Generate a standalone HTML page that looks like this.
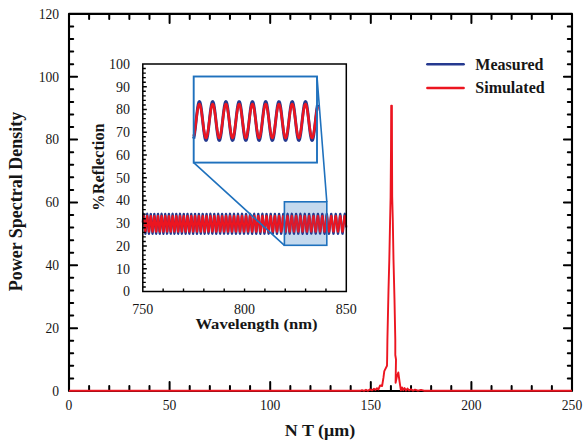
<!DOCTYPE html>
<html><head><meta charset="utf-8"><style>
html,body{margin:0;padding:0;background:#fff;width:585px;height:446px;overflow:hidden}
svg{display:block}
text{font-family:"Liberation Serif",serif;fill:#161616}
.n{font-size:13.6px}
.m{font-size:14px}
.t{font-size:18px;font-weight:bold}
.l{font-size:16px;font-weight:bold}
.s{font-size:16.6px;font-weight:bold}
</style></head><body>
<svg width="585" height="446" viewBox="0 0 585 446">
<rect width="585" height="446" fill="#fff"/>
<path d="M89.12 391.00V386.00M89.12 13.90V18.90M109.24 391.00V386.00M109.24 13.90V18.90M129.36 391.00V386.00M129.36 13.90V18.90M149.48 391.00V386.00M149.48 13.90V18.90M169.60 391.00V381.90M169.60 13.90V23.00M189.72 391.00V386.00M189.72 13.90V18.90M209.84 391.00V386.00M209.84 13.90V18.90M229.96 391.00V386.00M229.96 13.90V18.90M250.08 391.00V386.00M250.08 13.90V18.90M270.20 391.00V381.90M270.20 13.90V23.00M290.32 391.00V386.00M290.32 13.90V18.90M310.44 391.00V386.00M310.44 13.90V18.90M330.56 391.00V386.00M330.56 13.90V18.90M350.68 391.00V386.00M350.68 13.90V18.90M370.80 391.00V381.90M370.80 13.90V23.00M390.92 391.00V386.00M390.92 13.90V18.90M411.04 391.00V386.00M411.04 13.90V18.90M431.16 391.00V386.00M431.16 13.90V18.90M451.28 391.00V386.00M451.28 13.90V18.90M471.40 391.00V381.90M471.40 13.90V23.00M491.52 391.00V386.00M491.52 13.90V18.90M511.64 391.00V386.00M511.64 13.90V18.90M531.76 391.00V386.00M531.76 13.90V18.90M551.88 391.00V386.00M551.88 13.90V18.90M69.00 378.43H73.20M572.00 378.43H567.80M69.00 365.86H73.20M572.00 365.86H567.80M69.00 353.29H73.20M572.00 353.29H567.80M69.00 340.72H73.20M572.00 340.72H567.80M69.00 328.15H77.10M572.00 328.15H563.90M69.00 315.58H73.20M572.00 315.58H567.80M69.00 303.01H73.20M572.00 303.01H567.80M69.00 290.44H73.20M572.00 290.44H567.80M69.00 277.87H73.20M572.00 277.87H567.80M69.00 265.30H77.10M572.00 265.30H563.90M69.00 252.73H73.20M572.00 252.73H567.80M69.00 240.16H73.20M572.00 240.16H567.80M69.00 227.59H73.20M572.00 227.59H567.80M69.00 215.02H73.20M572.00 215.02H567.80M69.00 202.45H77.10M572.00 202.45H563.90M69.00 189.88H73.20M572.00 189.88H567.80M69.00 177.31H73.20M572.00 177.31H567.80M69.00 164.74H73.20M572.00 164.74H567.80M69.00 152.17H73.20M572.00 152.17H567.80M69.00 139.60H77.10M572.00 139.60H563.90M69.00 127.03H73.20M572.00 127.03H567.80M69.00 114.46H73.20M572.00 114.46H567.80M69.00 101.89H73.20M572.00 101.89H567.80M69.00 89.32H73.20M572.00 89.32H567.80M69.00 76.75H77.10M572.00 76.75H563.90M69.00 64.18H73.20M572.00 64.18H567.80M69.00 51.61H73.20M572.00 51.61H567.80M69.00 39.04H73.20M572.00 39.04H567.80M69.00 26.47H73.20M572.00 26.47H567.80" stroke="#000" stroke-width="2.0" stroke-linecap="round" fill="none"/>
<rect x="69.0" y="13.9" width="503.00" height="377.10" stroke="#000" stroke-width="2.1" stroke-linejoin="round" fill="none"/>
<text transform="translate(59.1 395.80) scale(1 1.12)" text-anchor="end" class="n">0</text>
<text transform="translate(59.1 332.95) scale(1 1.12)" text-anchor="end" class="n">20</text>
<text transform="translate(59.1 270.10) scale(1 1.12)" text-anchor="end" class="n">40</text>
<text transform="translate(59.1 207.25) scale(1 1.12)" text-anchor="end" class="n">60</text>
<text transform="translate(59.1 144.40) scale(1 1.12)" text-anchor="end" class="n">80</text>
<text transform="translate(59.1 81.55) scale(1 1.12)" text-anchor="end" class="n">100</text>
<text transform="translate(59.1 18.70) scale(1 1.12)" text-anchor="end" class="n">120</text>
<text transform="translate(69.00 409.7) scale(1 1.12)" text-anchor="middle" class="n">0</text>
<text transform="translate(169.60 409.7) scale(1 1.12)" text-anchor="middle" class="n">50</text>
<text transform="translate(270.20 409.7) scale(1 1.12)" text-anchor="middle" class="n">100</text>
<text transform="translate(370.80 409.7) scale(1 1.12)" text-anchor="middle" class="n">150</text>
<text transform="translate(471.40 409.7) scale(1 1.12)" text-anchor="middle" class="n">200</text>
<text transform="translate(572.00 409.7) scale(1 1.12)" text-anchor="middle" class="n">250</text>
<text transform="translate(320 435.6) scale(1 0.95)" text-anchor="middle" class="t">N T (μm)</text>
<text transform="translate(21.5 201.5) rotate(-90)" text-anchor="middle" class="t">Power Spectral Density</text>
<polyline points="69.0,390.8 360.0,390.8 362.0,390.1 364.0,390.9 366.0,389.8 368.0,390.8 370.0,389.4 372.0,390.4 374.0,388.8 375.5,389.9 377.0,388.2 378.5,389.4 380.0,385.5 382.1,386.0 383.5,377.4 384.3,371.1 387.0,365.8 387.2,355.0 387.4,340.0 388.5,290.0 389.3,260.0 390.1,220.0 390.6,197.0 391.0,150.0 391.2,105.6 391.9,105.6 392.0,150.0 392.2,197.0 392.8,220.0 393.5,260.0 394.5,300.0 395.3,340.0 395.3,355.0 396.0,359.5 395.6,382.8 396.9,376.5 398.3,372.5 399.6,381.9 400.9,390.4 402.0,387.5 403.2,390.2 404.5,388.0 406.0,390.5 407.5,388.6 409.0,390.4 411.0,389.2 413.0,390.6 415.0,389.6 418.0,390.7 421.0,389.9 424.0,390.7 426.0,390.8 572.0,390.8" stroke="#ec1520" stroke-width="1.9" fill="none" stroke-linejoin="round"/>
<path d="M427.4 64.3H463.6" stroke="#25398f" stroke-width="2.6" stroke-linecap="round"/>
<path d="M427.4 88.0H463.6" stroke="#ec1520" stroke-width="2.6" stroke-linecap="round"/>
<text x="475.3" y="69.6" class="l">Measured</text>
<text x="475.3" y="93.4" class="l">Simulated</text>
<rect x="142.8" y="64.0" width="203.50" height="227.50" fill="#fff" stroke="none"/>
<rect x="284.4" y="201.8" width="42.4" height="43.5" fill="#d0e4f4"/>
<polyline points="142.80,222.23 143.00,218.87 143.20,216.12 143.40,214.32 143.60,213.70 143.80,214.32 144.00,216.12 144.20,218.86 144.40,222.21 144.60,225.76 144.80,229.06 145.00,231.72 145.20,233.40 145.40,233.89 145.60,233.15 145.80,231.25 146.00,228.44 146.20,225.06 146.40,221.53 146.60,218.27 146.80,215.70 147.00,214.12 147.20,213.72 147.40,214.56 147.60,216.53 147.80,219.39 148.00,222.79 148.20,226.31 148.40,229.52 148.60,232.04 148.80,233.54 149.00,233.86 149.20,232.96 149.40,230.93 149.60,228.04 149.80,224.64 150.00,221.13 150.20,217.95 150.40,215.48 150.60,214.02 150.80,213.75 151.00,214.70 151.20,216.75 151.40,219.66 151.60,223.06 151.80,226.56 152.00,229.72 152.20,232.17 152.40,233.60 152.60,233.85 152.80,232.88 153.00,230.82 153.20,227.91 153.40,224.51 153.60,221.02 153.80,217.87 154.00,215.43 154.20,214.00 154.40,213.75 154.60,214.71 154.80,216.76 155.00,219.65 155.20,223.05 155.40,226.53 155.60,229.68 155.80,232.13 156.00,233.58 156.20,233.86 156.40,232.93 156.60,230.91 156.80,228.05 157.00,224.68 157.20,221.20 157.40,218.03 157.60,215.56 157.80,214.06 158.00,213.73 158.20,214.60 158.40,216.56 158.60,219.38 158.80,222.73 159.00,226.20 159.20,229.39 159.40,231.91 159.60,233.47 159.80,233.88 160.00,233.10 160.20,231.21 160.40,228.45 160.60,225.14 160.80,221.66 161.00,218.45 161.20,215.86 161.40,214.22 161.60,213.70 161.80,214.38 162.00,216.17 162.20,218.86 162.40,222.13 162.60,225.59 162.80,228.85 163.00,231.51 163.20,233.26 163.40,233.90 163.60,233.35 163.80,231.69 164.00,229.09 164.20,225.88 164.40,222.43 164.60,219.13 164.80,216.39 165.00,214.51 165.20,213.72 165.40,214.11 165.60,215.63 165.80,218.10 166.00,221.24 166.20,224.68 166.40,228.02 166.60,230.86 166.80,232.88 167.00,233.84 167.20,233.63 167.40,232.28 167.60,229.94 167.80,226.89 168.00,223.48 168.20,220.11 168.40,217.17 168.60,215.00 168.80,213.85 169.00,213.85 169.20,215.00 169.40,217.17 169.60,220.11 169.80,223.48 170.00,226.88 170.20,229.92 170.40,232.26 170.60,233.62 170.80,233.85 171.00,232.92 171.20,230.94 171.40,228.13 171.60,224.84 171.80,221.42 172.00,218.27 172.20,215.77 172.40,214.18 172.60,213.70 172.80,214.38 173.00,216.14 173.20,218.78 173.40,221.99 173.60,225.41 173.80,228.64 174.00,231.32 174.20,233.14 174.40,233.89 174.60,233.49 174.80,231.98 175.00,229.54 175.20,226.44 175.40,223.05 175.60,219.74 175.80,216.90 176.00,214.84 176.20,213.80 176.40,213.90 176.60,215.12 176.80,217.33 177.00,220.27 177.20,223.62 177.40,226.98 177.60,229.98 177.80,232.28 178.00,233.62 178.20,233.85 178.40,232.94 178.60,231.00 178.80,228.24 179.00,224.99 179.20,221.60 179.40,218.46 179.60,215.92 179.80,214.27 180.00,213.70 180.20,214.26 180.40,215.90 180.60,218.42 180.80,221.55 181.00,224.93 181.20,228.19 181.40,230.94 181.60,232.90 181.80,233.84 182.00,233.65 182.20,232.35 182.40,230.10 182.60,227.15 182.80,223.82 183.00,220.49 183.20,217.53 183.40,215.27 183.60,213.96 183.80,213.76 184.00,214.67 184.20,216.60 184.40,219.33 184.60,222.56 184.80,225.93 185.00,229.05 185.20,231.60 185.40,233.27 185.60,233.90 185.80,233.40 186.00,231.84 186.20,229.38 186.40,226.31 186.60,222.96 186.80,219.71 187.00,216.90 187.20,214.86 187.40,213.81 187.60,213.87 187.80,215.02 188.00,217.14 188.20,219.99 188.40,223.27 188.60,226.60 188.80,229.62 189.00,232.00 189.20,233.48 189.40,233.89 189.60,233.19 189.80,231.46 190.00,228.89 190.20,225.76 190.40,222.42 190.60,219.23 190.80,216.54 191.00,214.64 191.20,213.75 191.40,213.96 191.60,215.25 191.80,217.47 192.00,220.38 192.20,223.67 192.40,226.97 192.60,229.92 192.80,232.20 193.00,233.57 193.20,233.87 193.40,233.08 193.60,231.27 193.80,228.65 194.00,225.51 194.20,222.18 194.40,219.03 194.60,216.39 194.80,214.56 195.00,213.74 195.20,214.00 195.40,215.33 195.60,217.57 195.80,220.49 196.00,223.76 196.20,227.04 196.40,229.97 196.60,232.23 196.80,233.58 197.00,233.87 197.20,233.08 197.40,231.28 197.60,228.69 197.80,225.56 198.00,222.25 198.20,219.10 198.40,216.46 198.60,214.61 198.80,213.75 199.00,213.97 199.20,215.24 199.40,217.43 199.60,220.30 199.80,223.55 200.00,226.82 200.20,229.77 200.40,232.08 200.60,233.50 200.80,233.89 201.00,233.19 201.20,231.50 201.40,228.98 201.60,225.91 201.80,222.61 202.00,219.45 202.20,216.74 202.40,214.79 202.60,213.80 202.80,213.87 203.00,215.00 203.20,217.06 203.40,219.84 203.60,223.04 203.80,226.32 204.00,229.32 204.20,231.75 204.40,233.33 204.60,233.90 204.80,233.40 205.00,231.89 205.20,229.52 205.40,226.55 205.60,223.28 205.80,220.08 206.00,217.26 206.20,215.14 206.40,213.93 206.60,213.76 206.80,214.65 207.00,216.50 207.20,219.12 207.40,222.23 207.60,225.50 207.80,228.60 208.00,231.19 208.20,233.00 208.40,233.85 208.60,233.64 208.80,232.41 209.00,230.27 209.20,227.45 209.40,224.26 209.60,221.01 209.80,218.06 210.00,215.71 210.20,214.20 210.40,213.70 210.60,214.25 210.80,215.80 211.00,218.18 211.20,221.14 211.40,224.38 211.60,227.56 211.80,230.35 212.00,232.46 212.20,233.66 212.40,233.84 212.60,232.98 212.80,231.17 213.00,228.59 213.20,225.52 213.40,222.27 213.60,219.18 213.80,216.56 214.00,214.70 214.20,213.78 214.40,213.89 214.60,215.03 214.80,217.08 215.00,219.81 215.20,222.96 215.40,226.19 215.60,229.18 215.80,231.61 216.00,233.24 216.20,233.89 216.40,233.51 216.60,232.13 216.80,229.89 217.00,227.03 217.20,223.84 217.40,220.65 217.60,217.78 217.80,215.52 218.00,214.12 218.20,213.71 218.40,214.33 218.60,215.92 218.80,218.31 219.00,221.27 219.20,224.48 219.40,227.62 219.60,230.37 219.80,232.46 220.00,233.66 220.20,233.85 220.40,233.02 220.60,231.25 220.80,228.73 221.00,225.70 221.20,222.48 221.40,219.40 221.60,216.76 221.80,214.84 222.00,213.83 222.20,213.83 222.40,214.84 222.60,216.75 222.80,219.38 223.00,222.46 223.20,225.67 223.40,228.69 223.60,231.21 223.80,232.99 224.00,233.84 224.20,233.68 224.40,232.52 224.60,230.48 224.80,227.77 225.00,224.66 225.20,221.46 225.40,218.51 225.60,216.08 225.80,214.43 226.00,213.72 226.20,214.02 226.40,215.31 226.60,217.44 226.80,220.22 227.00,223.35 227.20,226.52 227.40,229.42 227.60,231.76 227.80,233.30 228.00,233.90 228.20,233.48 228.40,232.10 228.60,229.89 228.80,227.07 229.00,223.93 229.20,220.77 229.40,217.92 229.60,215.66 229.80,214.20 230.00,213.70 230.20,214.20 230.40,215.66 230.60,217.93 230.80,220.77 231.00,223.92 231.20,227.05 231.40,229.87 231.60,232.07 231.80,233.46 232.00,233.90 232.20,233.33 232.40,231.82 232.60,229.52 232.80,226.66 233.00,223.51 233.20,220.39 233.40,217.61 233.60,215.44 233.80,214.10 234.00,213.71 234.20,214.31 234.40,215.85 234.60,218.16 234.80,221.04 235.00,224.18 235.20,227.28 235.40,230.04 235.60,232.19 235.80,233.52 236.00,233.89 236.20,233.28 236.40,231.73 236.60,229.41 236.80,226.55 237.00,223.41 237.20,220.31 237.40,217.56 237.60,215.41 237.80,214.09 238.00,213.71 238.20,214.31 238.40,215.84 238.60,218.14 238.80,221.00 239.00,224.12 239.20,227.21 239.40,229.98 239.60,232.14 239.80,233.49 240.00,233.90 240.20,233.33 240.40,231.83 240.60,229.56 240.80,226.74 241.00,223.62 241.20,220.53 241.40,217.75 241.60,215.56 241.80,214.16 242.00,213.70 242.20,214.21 242.40,215.65 242.60,217.87 242.80,220.66 243.00,223.75 243.20,226.85 243.40,229.65 243.60,231.89 243.80,233.36 244.00,233.90 244.20,233.47 244.40,232.11 244.60,229.96 244.80,227.22 245.00,224.15 245.20,221.04 245.40,218.21 245.60,215.90 245.80,214.36 246.00,213.71 246.20,214.04 246.40,215.29 246.60,217.36 246.80,220.04 247.00,223.08 247.20,226.18 247.40,229.06 247.60,231.44 247.80,233.09 248.00,233.86 248.20,233.66 248.40,232.54 248.60,230.58 248.80,227.97 249.00,224.98 249.20,221.87 249.40,218.94 249.60,216.48 249.80,214.71 250.00,213.80 250.20,213.84 250.40,214.82 250.60,216.65 250.80,219.16 251.00,222.10 251.20,225.20 251.40,228.17 251.60,230.73 251.80,232.63 252.00,233.70 252.20,233.84 252.40,233.03 252.60,231.35 252.80,228.97 253.00,226.10 253.20,223.01 253.40,220.00 253.60,217.34 253.80,215.30 254.00,214.05 254.20,213.71 254.40,214.32 254.60,215.82 254.80,218.06 255.00,220.84 255.20,223.90 255.40,226.95 255.60,229.70 255.80,231.90 256.00,233.34 256.20,233.90 256.40,233.51 256.60,232.22 256.80,230.14 257.00,227.47 257.20,224.47 257.40,221.40 257.60,218.55 257.80,216.20 258.00,214.55 258.20,213.76 258.40,213.90 258.60,214.96 258.80,216.84 259.00,219.36 259.20,222.30 259.40,225.37 259.60,228.30 259.80,230.81 260.00,232.67 260.20,233.71 260.40,233.84 260.60,233.04 260.80,231.39 261.00,229.03 261.20,226.20 261.40,223.15 261.60,220.15 261.80,217.50 262.00,215.42 262.20,214.12 262.40,213.70 262.60,214.21 262.80,215.61 263.00,217.75 263.20,220.45 263.40,223.45 263.60,226.49 263.80,229.28 264.00,231.57 264.20,233.14 264.40,233.86 264.60,233.66 264.80,232.56 265.00,230.66 265.20,228.14 265.40,225.22 265.60,222.17 265.80,219.27 266.00,216.78 266.20,214.93 266.40,213.89 266.60,213.76 266.80,214.53 267.00,216.15 267.20,218.46 267.40,221.26 267.60,224.29 267.80,227.27 268.00,229.93 268.20,232.04 268.40,233.41 268.60,233.90 268.80,233.48 269.00,232.18 269.20,230.13 269.40,227.50 269.60,224.54 269.80,221.52 270.00,218.70 270.20,216.34 270.40,214.66 270.60,213.79 270.80,213.84 271.00,214.77 271.20,216.52 271.40,218.93 271.60,221.77 271.80,224.79 272.00,227.72 272.20,230.30 272.40,232.30 272.60,233.53 272.80,233.90 273.00,233.35 273.20,231.95 273.40,229.82 273.60,227.16 273.80,224.19 274.00,221.19 274.20,218.42 274.40,216.14 274.60,214.54 274.80,213.76 275.00,213.88 275.20,214.89 275.40,216.68 275.60,219.11 275.80,221.96 276.00,224.97 276.20,227.88 276.40,230.42 276.60,232.37 276.80,233.57 277.00,233.89 277.20,233.32 277.40,231.91 277.60,229.78 277.80,227.12 278.00,224.16 278.20,221.18 278.40,218.43 278.60,216.15 278.80,214.55 279.00,213.77 279.20,213.87 279.40,214.85 279.60,216.62 279.80,219.02 280.00,221.84 280.20,224.83 280.40,227.74 280.60,230.29 280.80,232.27 281.00,233.51 281.20,233.90 281.40,233.40 281.60,232.05 281.80,229.98 282.00,227.38 282.20,224.45 282.40,221.47 282.60,218.70 282.80,216.37 283.00,214.70 283.20,213.81 283.40,213.81 283.60,214.67 283.80,216.33 284.00,218.65 284.20,221.41 284.40,224.38 284.60,227.30 284.80,229.91 285.00,231.99 285.20,233.36 285.40,233.89 285.60,233.55 285.80,232.36 286.00,230.43 286.20,227.92 286.40,225.06 286.60,222.09 286.80,219.26 287.00,216.83 287.20,215.01 287.40,213.94 287.60,213.73 287.80,214.39 288.00,215.86 288.20,218.02 288.40,220.68 288.60,223.60 288.80,226.55 289.00,229.25 289.20,231.48 289.40,233.06 289.60,233.83 289.80,233.74 290.00,232.80 290.20,231.08 290.40,228.74 290.60,225.97 290.80,223.02 291.00,220.13 291.20,217.56 291.40,215.53 291.60,214.21 291.80,213.70 292.00,214.07 292.20,215.26 292.40,217.19 292.60,219.68 292.80,222.52 293.00,225.47 293.20,228.28 293.40,230.70 293.60,232.54 293.80,233.63 294.00,233.88 294.20,233.28 294.40,231.86 294.60,229.76 294.80,227.16 295.00,224.27 295.20,221.34 295.40,218.62 295.60,216.34 295.80,214.69 296.00,213.82 296.20,213.79 296.40,214.62 296.60,216.21 296.80,218.45 297.00,221.15 297.20,224.06 297.40,226.96 297.60,229.58 297.80,231.72 298.00,233.19 298.20,233.86 298.40,233.69 298.60,232.68 298.80,230.93 299.00,228.57 299.20,225.82 299.40,222.89 299.60,220.04 299.80,217.51 300.00,215.51 300.20,214.20 300.40,213.70 300.60,214.05 300.80,215.21 301.00,217.10 301.20,219.54 301.40,222.34 301.60,225.26 301.80,228.06 302.00,230.50 302.20,232.39 302.40,233.55 302.60,233.90 302.80,233.40 303.00,232.11 303.20,230.12 303.40,227.61 303.60,224.78 303.80,221.86 304.00,219.12 304.20,216.76 304.40,214.98 304.60,213.94 304.80,213.72 305.00,214.34 305.20,215.74 305.40,217.81 305.60,220.38 305.80,223.22 306.00,226.12 306.20,228.82 306.40,231.11 306.60,232.79 306.80,233.73 307.00,233.85 307.20,233.13 307.40,231.65 307.60,229.52 307.80,226.92 308.00,224.06 308.20,221.18 308.40,218.52 308.60,216.29 308.80,214.68 309.00,213.82 309.20,213.79 309.40,214.57 309.60,216.11 309.80,218.29 310.00,220.91 310.20,223.78 310.40,226.64 310.60,229.27 310.80,231.45 311.00,233.00 311.20,233.80 311.40,233.79 311.60,232.95 311.80,231.37 312.00,229.17 312.20,226.53 312.40,223.67 312.60,220.82 312.80,218.22 313.00,216.07 313.20,214.55 313.40,213.78 313.60,213.83 313.80,214.69 314.00,216.29 314.20,218.50 314.40,221.14 314.60,224.00 314.80,226.83 315.00,229.43 315.20,231.56 315.40,233.07 315.60,233.82 315.80,233.77 316.00,232.90 316.20,231.30 316.40,229.10 316.60,226.47 316.80,223.62 317.00,220.79 317.20,218.20 317.40,216.06 317.60,214.55 317.80,213.78 318.00,213.82 318.20,214.67 318.40,216.25 318.60,218.43 318.80,221.05 319.00,223.89 319.20,226.72 319.40,229.31 319.60,231.46 319.80,233.00 320.00,233.80 320.20,233.80 320.40,232.99 320.60,231.46 320.80,229.30 321.00,226.71 321.20,223.89 321.40,221.06 321.60,218.45 321.80,216.27 322.00,214.69 322.20,213.83 322.40,213.77 322.60,214.51 322.80,215.99 323.00,218.09 323.20,220.65 323.40,223.45 323.60,226.28 323.80,228.92 324.00,231.14 324.20,232.79 324.40,233.72 324.60,233.86 324.80,233.20 325.00,231.80 325.20,229.77 325.40,227.27 325.60,224.49 325.80,221.66 326.00,218.99 326.20,216.71 326.40,214.99 326.60,213.96 326.80,213.71 327.00,214.26 327.20,215.56 327.40,217.51 327.60,219.95 327.80,222.69 328.00,225.52 328.20,228.22 328.40,230.57 328.60,232.38 328.80,233.52 329.00,233.90 329.20,233.48 329.40,232.31 329.60,230.47 329.80,228.10 330.00,225.40 330.20,222.58 330.40,219.85 330.60,217.43 330.80,215.51 331.00,214.24 331.20,213.71 331.40,213.97 331.60,215.00 331.80,216.72 332.00,218.99 332.20,221.63 332.40,224.44 332.60,227.20 332.80,229.69 333.00,231.73 333.20,233.15 333.40,233.84 333.60,233.75 333.80,232.89 334.00,231.33 334.20,229.18 334.40,226.61 334.60,223.83 334.80,221.05 335.00,218.48 335.20,216.32 335.40,214.74 335.60,213.86 335.80,213.75 336.00,214.42 336.20,215.81 336.40,217.82 336.60,220.28 336.80,223.02 337.00,225.82 337.20,228.46 337.40,230.75 337.60,232.49 337.80,233.57 338.00,233.90 338.20,233.45 338.40,232.26 338.60,230.42 338.80,228.07 339.00,225.40 339.20,222.60 339.40,219.90 339.60,217.49 339.80,215.57 340.00,214.28 340.20,213.72 340.40,213.93 340.60,214.89 340.80,216.54 341.00,218.73 341.20,221.32 341.40,224.09 341.60,226.84 341.80,229.36 342.00,231.45 342.20,232.96 342.40,233.77 342.60,233.83 342.80,233.12 343.00,231.70 343.20,229.69 343.40,227.22 343.60,224.50 343.80,221.73 344.00,219.11 344.20,216.85 344.40,215.11 344.60,214.04 344.80,213.70 345.00,214.13 345.20,215.29 345.40,217.09 345.60,219.40 345.80,222.04 346.00,224.81 346.20,227.51" stroke="#25398f" stroke-width="2.1" stroke-linejoin="round" fill="none"/>
<polyline points="142.80,222.56 143.00,219.89 143.20,217.72 143.40,216.29 143.60,215.80 143.80,216.29 144.00,217.72 144.20,219.89 144.40,222.54 144.60,225.35 144.80,227.97 145.00,230.07 145.20,231.40 145.40,231.79 145.60,231.20 145.80,229.70 146.00,227.48 146.20,224.80 146.40,222.00 146.60,219.42 146.80,217.38 147.00,216.13 147.20,215.82 147.40,216.48 147.60,218.04 147.80,220.31 148.00,223.00 148.20,225.79 148.40,228.33 148.60,230.32 148.80,231.52 149.00,231.77 149.20,231.05 149.40,229.45 149.60,227.16 149.80,224.46 150.00,221.68 150.20,219.16 150.40,217.21 150.60,216.05 150.80,215.84 151.00,216.59 151.20,218.22 151.40,220.52 151.60,223.22 151.80,225.99 152.00,228.49 152.20,230.43 152.40,231.56 152.60,231.76 152.80,230.99 153.00,229.36 153.20,227.06 153.40,224.36 153.60,221.60 153.80,219.10 154.00,217.17 154.20,216.04 154.40,215.84 154.60,216.60 154.80,218.22 155.00,220.52 155.20,223.20 155.40,225.96 155.60,228.46 155.80,230.40 156.00,231.54 156.20,231.76 156.40,231.03 156.60,229.44 156.80,227.17 157.00,224.49 157.20,221.74 157.40,219.23 157.60,217.27 157.80,216.09 158.00,215.82 158.20,216.51 158.40,218.07 158.60,220.30 158.80,222.95 159.00,225.70 159.20,228.23 159.40,230.23 159.60,231.46 159.80,231.79 160.00,231.17 160.20,229.67 160.40,227.48 160.60,224.86 160.80,222.11 161.00,219.56 161.20,217.51 161.40,216.21 161.60,215.80 161.80,216.34 162.00,217.76 162.20,219.88 162.40,222.47 162.60,225.22 162.80,227.80 163.00,229.90 163.20,231.29 163.40,231.80 163.60,231.37 163.80,230.05 164.00,227.99 164.20,225.45 164.40,222.71 164.60,220.10 164.80,217.93 165.00,216.44 165.20,215.81 165.40,216.12 165.60,217.33 165.80,219.29 166.00,221.78 166.20,224.50 166.40,227.14 166.60,229.39 166.80,230.99 167.00,231.75 167.20,231.59 167.40,230.52 167.60,228.67 167.80,226.25 168.00,223.55 168.20,220.88 168.40,218.55 168.60,216.83 168.80,215.92 169.00,215.92 169.20,216.83 169.40,218.55 169.60,220.88 169.80,223.54 170.00,226.24 170.20,228.65 170.40,230.50 170.60,231.58 170.80,231.76 171.00,231.02 171.20,229.45 171.40,227.23 171.60,224.62 171.80,221.91 172.00,219.42 172.20,217.44 172.40,216.18 172.60,215.80 172.80,216.34 173.00,217.73 173.20,219.82 173.40,222.37 173.60,225.07 173.80,227.63 174.00,229.75 174.20,231.19 174.40,231.79 174.60,231.47 174.80,230.28 175.00,228.35 175.20,225.89 175.40,223.21 175.60,220.59 175.80,218.33 176.00,216.70 176.20,215.88 176.40,215.96 176.60,216.93 176.80,218.68 177.00,221.01 177.20,223.65 177.40,226.32 177.60,228.69 177.80,230.52 178.00,231.58 178.20,231.76 178.40,231.04 178.60,229.50 178.80,227.32 179.00,224.74 179.20,222.06 179.40,219.57 179.60,217.56 179.80,216.25 180.00,215.80 180.20,216.25 180.40,217.54 180.60,219.54 180.80,222.02 181.00,224.70 181.20,227.27 181.40,229.46 181.60,231.01 181.80,231.75 182.00,231.60 182.20,230.58 182.40,228.79 182.60,226.45 182.80,223.81 183.00,221.18 183.20,218.83 183.40,217.04 183.60,216.01 183.80,215.85 184.00,216.57 184.20,218.10 184.40,220.26 184.60,222.82 184.80,225.48 185.00,227.96 185.20,229.98 185.40,231.30 185.60,231.80 185.80,231.40 186.00,230.17 186.20,228.22 186.40,225.79 186.60,223.14 186.80,220.56 187.00,218.34 187.20,216.72 187.40,215.89 187.60,215.93 187.80,216.85 188.00,218.52 188.20,220.79 188.40,223.38 188.60,226.02 188.80,228.41 189.00,230.30 189.20,231.47 189.40,231.79 189.60,231.24 189.80,229.87 190.00,227.83 190.20,225.35 190.40,222.70 190.60,220.18 190.80,218.05 191.00,216.55 191.20,215.84 191.40,216.01 191.60,217.03 191.80,218.79 192.00,221.09 192.20,223.70 192.40,226.31 192.60,228.65 192.80,230.46 193.00,231.54 193.20,231.78 193.40,231.15 193.60,229.72 193.80,227.65 194.00,225.15 194.20,222.52 194.40,220.02 194.60,217.93 194.80,216.48 195.00,215.83 195.20,216.04 195.40,217.09 195.60,218.87 195.80,221.18 196.00,223.77 196.20,226.37 196.40,228.69 196.60,230.48 196.80,231.54 197.00,231.78 197.20,231.15 197.40,229.73 197.60,227.67 197.80,225.19 198.00,222.57 198.20,220.08 198.40,217.99 198.60,216.52 198.80,215.84 199.00,216.01 199.20,217.02 199.40,218.75 199.60,221.03 199.80,223.60 200.00,226.20 200.20,228.53 200.40,230.36 200.60,231.49 200.80,231.79 201.00,231.24 201.20,229.90 201.40,227.90 201.60,225.47 201.80,222.86 202.00,220.35 202.20,218.21 202.40,216.67 202.60,215.88 202.80,215.94 203.00,216.83 203.20,218.46 203.40,220.66 203.60,223.20 203.80,225.79 204.00,228.18 204.20,230.10 204.40,231.35 204.60,231.80 204.80,231.40 205.00,230.21 205.20,228.33 205.40,225.98 205.60,223.39 205.80,220.85 206.00,218.62 206.20,216.94 206.40,215.98 206.60,215.85 206.80,216.55 207.00,218.02 207.20,220.09 207.40,222.56 207.60,225.15 207.80,227.60 208.00,229.65 208.20,231.09 208.40,231.76 208.60,231.60 208.80,230.62 209.00,228.92 209.20,226.69 209.40,224.16 209.60,221.59 209.80,219.25 210.00,217.39 210.20,216.20 210.40,215.80 210.60,216.24 210.80,217.46 211.00,219.35 211.20,221.69 211.40,224.26 211.60,226.78 211.80,228.99 212.00,230.66 212.20,231.61 212.40,231.76 212.60,231.07 212.80,229.64 213.00,227.59 213.20,225.16 213.40,222.59 213.60,220.14 213.80,218.07 214.00,216.59 214.20,215.86 214.40,215.95 214.60,216.86 214.80,218.47 215.00,220.64 215.20,223.13 215.40,225.69 215.60,228.06 215.80,229.98 216.00,231.27 216.20,231.79 216.40,231.49 216.60,230.40 216.80,228.63 217.00,226.36 217.20,223.83 217.40,221.30 217.60,219.03 217.80,217.24 218.00,216.13 218.20,215.80 218.40,216.30 218.60,217.55 218.80,219.45 219.00,221.79 219.20,224.34 219.40,226.83 219.60,229.01 219.80,230.66 220.00,231.61 220.20,231.76 220.40,231.10 220.60,229.70 220.80,227.70 221.00,225.31 221.20,222.76 221.40,220.32 221.60,218.23 221.80,216.71 222.00,215.90 222.20,215.90 222.40,216.70 222.60,218.22 222.80,220.30 223.00,222.74 223.20,225.28 223.40,227.67 223.60,229.67 223.80,231.08 224.00,231.75 224.20,231.62 224.40,230.70 224.60,229.09 224.80,226.94 225.00,224.48 225.20,221.95 225.40,219.61 225.60,217.68 225.80,216.38 226.00,215.82 226.20,216.06 226.40,217.07 226.60,218.77 226.80,220.96 227.00,223.44 227.20,225.96 227.40,228.25 227.60,230.11 227.80,231.33 228.00,231.80 228.20,231.47 228.40,230.37 228.60,228.62 228.80,226.39 229.00,223.90 229.20,221.40 229.40,219.14 229.60,217.35 229.80,216.20 230.00,215.80 230.20,216.20 230.40,217.35 230.60,219.15 230.80,221.40 231.00,223.90 231.20,226.38 231.40,228.60 231.60,230.35 231.80,231.46 232.00,231.80 232.20,231.35 232.40,230.16 232.60,228.33 232.80,226.06 233.00,223.57 233.20,221.10 233.40,218.90 233.60,217.18 233.80,216.11 234.00,215.80 234.20,216.28 234.40,217.50 234.60,219.34 234.80,221.61 235.00,224.10 235.20,226.56 235.40,228.75 235.60,230.45 235.80,231.50 236.00,231.79 236.20,231.31 236.40,230.08 236.60,228.25 236.80,225.98 237.00,223.49 237.20,221.04 237.40,218.86 237.60,217.16 237.80,216.11 238.00,215.81 238.20,216.28 238.40,217.49 238.60,219.32 238.80,221.58 239.00,224.05 239.20,226.50 239.40,228.69 239.60,230.40 239.80,231.47 240.00,231.80 240.20,231.35 240.40,230.16 240.60,228.37 240.80,226.13 241.00,223.66 241.20,221.21 241.40,219.01 241.60,217.27 241.80,216.17 242.00,215.80 242.20,216.20 242.40,217.34 242.60,219.10 242.80,221.31 243.00,223.76 243.20,226.22 243.40,228.44 243.60,230.21 243.80,231.37 244.00,231.80 244.20,231.46 244.40,230.39 244.60,228.68 244.80,226.51 245.00,224.07 245.20,221.62 245.40,219.37 245.60,217.54 245.80,216.32 246.00,215.81 246.20,216.07 246.40,217.06 246.60,218.70 246.80,220.82 247.00,223.23 247.20,225.69 247.40,227.97 247.60,229.85 247.80,231.16 248.00,231.77 248.20,231.61 248.40,230.72 248.60,229.17 248.80,227.11 249.00,224.73 249.20,222.27 249.40,219.95 249.60,218.00 249.80,216.60 250.00,215.88 250.20,215.91 250.40,216.69 250.60,218.14 250.80,220.12 251.00,222.45 251.20,224.91 251.40,227.26 251.60,229.29 251.80,230.80 252.00,231.64 252.20,231.75 252.40,231.11 252.60,229.78 252.80,227.89 253.00,225.62 253.20,223.17 253.40,220.79 253.60,218.69 253.80,217.06 254.00,216.07 254.20,215.81 254.40,216.29 254.60,217.48 254.80,219.26 255.00,221.46 255.20,223.88 255.40,226.29 255.60,228.47 255.80,230.22 256.00,231.36 256.20,231.80 256.40,231.49 256.60,230.47 256.80,228.82 257.00,226.71 257.20,224.33 257.40,221.90 257.60,219.64 257.80,217.78 258.00,216.47 258.20,215.85 258.40,215.96 258.60,216.80 258.80,218.29 259.00,220.29 259.20,222.61 259.40,225.04 259.60,227.36 259.80,229.35 260.00,230.83 260.20,231.65 260.40,231.75 260.60,231.12 260.80,229.81 261.00,227.95 261.20,225.70 261.40,223.28 261.60,220.91 261.80,218.81 262.00,217.16 262.20,216.13 262.40,215.80 262.60,216.21 262.80,217.31 263.00,219.01 263.20,221.15 263.40,223.53 263.60,225.93 263.80,228.14 264.00,229.95 264.20,231.20 264.40,231.77 264.60,231.61 264.80,230.74 265.00,229.24 265.20,227.23 265.40,224.92 265.60,222.51 265.80,220.21 266.00,218.24 266.20,216.78 266.40,215.95 266.60,215.85 266.80,216.46 267.00,217.74 267.20,219.57 267.40,221.79 267.60,224.19 267.80,226.55 268.00,228.66 268.20,230.33 268.40,231.41 268.60,231.80 268.80,231.47 269.00,230.44 269.20,228.81 269.40,226.73 269.60,224.39 269.80,221.99 270.00,219.76 270.20,217.89 270.40,216.56 270.60,215.88 270.80,215.91 271.00,216.65 271.20,218.04 271.40,219.94 271.60,222.19 271.80,224.58 272.00,226.91 272.20,228.95 272.40,230.53 272.60,231.51 272.80,231.80 273.00,231.37 273.20,230.26 273.40,228.57 273.60,226.46 273.80,224.11 274.00,221.73 274.20,219.54 274.40,217.73 274.60,216.46 274.80,215.85 275.00,215.94 275.20,216.74 275.40,218.16 275.60,220.09 275.80,222.34 276.00,224.73 276.20,227.03 276.40,229.04 276.60,230.59 276.80,231.54 277.00,231.79 277.20,231.34 277.40,230.22 277.60,228.53 277.80,226.43 278.00,224.09 278.20,221.72 278.40,219.54 278.60,217.74 278.80,216.47 279.00,215.85 279.20,215.93 279.40,216.71 279.60,218.11 279.80,220.01 280.00,222.25 280.20,224.62 280.40,226.92 280.60,228.94 280.80,230.51 281.00,231.49 281.20,231.80 281.40,231.40 281.60,230.34 281.80,228.70 282.00,226.63 282.20,224.32 282.40,221.96 282.60,219.76 282.80,217.92 283.00,216.59 283.20,215.89 283.40,215.88 283.60,216.57 283.80,217.89 284.00,219.72 284.20,221.91 284.40,224.26 284.60,226.57 284.80,228.64 285.00,230.29 285.20,231.37 285.40,231.80 285.60,231.53 285.80,230.58 286.00,229.05 286.20,227.07 286.40,224.80 286.60,222.44 286.80,220.21 287.00,218.28 287.20,216.83 287.40,215.99 287.60,215.82 287.80,216.35 288.00,217.51 288.20,219.22 288.40,221.33 288.60,223.64 288.80,225.97 289.00,228.12 289.20,229.89 289.40,231.13 289.60,231.75 289.80,231.67 290.00,230.93 290.20,229.57 290.40,227.71 290.60,225.52 290.80,223.18 291.00,220.90 291.20,218.86 291.40,217.25 291.60,216.20 291.80,215.80 292.00,216.09 292.20,217.04 292.40,218.56 292.60,220.53 292.80,222.79 293.00,225.12 293.20,227.35 293.40,229.27 293.60,230.72 293.80,231.59 294.00,231.79 294.20,231.31 294.40,230.19 294.60,228.52 294.80,226.46 295.00,224.17 295.20,221.85 295.40,219.70 295.60,217.89 295.80,216.59 296.00,215.90 296.20,215.87 296.40,216.53 296.60,217.79 296.80,219.57 297.00,221.70 297.20,224.01 297.40,226.30 297.60,228.38 297.80,230.07 298.00,231.23 298.20,231.77 298.40,231.63 298.60,230.84 298.80,229.45 299.00,227.58 299.20,225.40 299.40,223.08 299.60,220.83 299.80,218.82 300.00,217.23 300.20,216.20 300.40,215.80 300.60,216.08 300.80,217.00 301.00,218.49 301.20,220.43 301.40,222.65 301.60,224.96 301.80,227.18 302.00,229.11 302.20,230.60 302.40,231.52 302.60,231.80 302.80,231.41 303.00,230.38 303.20,228.81 303.40,226.81 303.60,224.57 303.80,222.27 304.00,220.09 304.20,218.22 304.40,216.82 304.60,215.99 304.80,215.82 305.00,216.31 305.20,217.42 305.40,219.06 305.60,221.09 305.80,223.34 306.00,225.64 306.20,227.78 306.40,229.59 306.60,230.92 306.80,231.66 307.00,231.76 307.20,231.19 307.40,230.02 307.60,228.33 307.80,226.27 308.00,224.00 308.20,221.72 308.40,219.62 308.60,217.85 308.80,216.58 309.00,215.90 309.20,215.87 309.40,216.49 309.60,217.71 309.80,219.43 310.00,221.51 310.20,223.78 310.40,226.05 310.60,228.13 310.80,229.86 311.00,231.09 311.20,231.72 311.40,231.71 311.60,231.05 311.80,229.80 312.00,228.05 312.20,225.96 312.40,223.70 312.60,221.44 312.80,219.38 313.00,217.67 313.20,216.47 313.40,215.86 313.60,215.90 313.80,216.58 314.00,217.85 314.20,219.60 314.40,221.69 314.60,223.96 314.80,226.20 315.00,228.26 315.20,229.95 315.40,231.14 315.60,231.74 315.80,231.69 316.00,231.01 316.20,229.74 316.40,228.00 316.60,225.91 316.80,223.66 317.00,221.41 317.20,219.36 317.40,217.67 317.60,216.47 317.80,215.87 318.00,215.90 318.20,216.57 318.40,217.82 318.60,219.55 318.80,221.62 319.00,223.87 319.20,226.11 319.40,228.17 319.60,229.87 319.80,231.09 320.00,231.72 320.20,231.72 320.40,231.08 320.60,229.86 320.80,228.16 321.00,226.11 321.20,223.87 321.40,221.63 321.60,219.56 321.80,217.83 322.00,216.58 322.20,215.91 322.40,215.86 322.60,216.44 322.80,217.62 323.00,219.28 323.20,221.30 323.40,223.52 323.60,225.77 323.80,227.85 324.00,229.62 324.20,230.92 324.40,231.65 324.60,231.77 324.80,231.25 325.00,230.14 325.20,228.53 325.40,226.55 325.60,224.35 325.80,222.10 326.00,219.99 326.20,218.18 326.40,216.82 326.60,216.01 326.80,215.81 327.00,216.24 327.20,217.27 327.40,218.81 327.60,220.75 327.80,222.92 328.00,225.17 328.20,227.30 328.40,229.16 328.60,230.60 328.80,231.50 329.00,231.80 329.20,231.47 329.40,230.54 329.60,229.08 329.80,227.21 330.00,225.07 330.20,222.83 330.40,220.67 330.60,218.75 330.80,217.23 331.00,216.22 331.20,215.81 331.40,216.02 331.60,216.83 331.80,218.19 332.00,219.99 332.20,222.08 332.40,224.30 332.60,226.49 332.80,228.47 333.00,230.08 333.20,231.20 333.40,231.75 333.60,231.68 333.80,231.00 334.00,229.76 334.20,228.06 334.40,226.03 334.60,223.82 334.80,221.62 335.00,219.58 335.20,217.87 335.40,216.62 335.60,215.93 335.80,215.84 336.00,216.37 336.20,217.47 336.40,219.06 336.60,221.02 336.80,223.18 337.00,225.40 337.20,227.49 337.40,229.30 337.60,230.69 337.80,231.54 338.00,231.80 338.20,231.44 338.40,230.50 338.60,229.04 338.80,227.18 339.00,225.07 339.20,222.85 339.40,220.71 339.60,218.81 339.80,217.28 340.00,216.26 340.20,215.82 340.40,215.98 340.60,216.74 340.80,218.05 341.00,219.79 341.20,221.83 341.40,224.03 341.60,226.21 341.80,228.20 342.00,229.86 342.20,231.06 342.40,231.70 342.60,231.74 342.80,231.18 343.00,230.06 343.20,228.46 343.40,226.51 343.60,224.36 343.80,222.16 344.00,220.08 344.20,218.29 344.40,216.92 344.60,216.07 344.80,215.80 345.00,216.14 345.20,217.06 345.40,218.48 345.60,220.31 345.80,222.40 346.00,224.60 346.20,226.74" stroke="#ec1520" stroke-width="2.0" stroke-linejoin="round" fill="none"/>
<rect x="284.4" y="201.8" width="42.4" height="43.5" fill="#3a5ab0" fill-opacity="0.08"/>
<rect x="284.4" y="201.8" width="42.4" height="43.5" fill="none" stroke="#1f71bd" stroke-width="1.6"/>
<path d="M193.7 162.6L284.4 245.3M317.0 76.5L326.8 201.8" stroke="#1f71bd" stroke-width="1.6" fill="none"/>
<polyline points="193.70,138.55 193.90,137.68 194.10,136.67 194.30,135.52 194.50,134.24 194.70,132.84 194.90,131.33 195.10,129.73 195.30,128.05 195.50,126.31 195.70,124.52 195.90,122.70 196.10,120.86 196.30,119.03 196.50,117.21 196.70,115.43 196.90,113.69 197.10,112.03 197.30,110.44 197.50,108.95 197.70,107.56 197.90,106.30 198.10,105.17 198.30,104.18 198.50,103.34 198.70,102.66 198.90,102.14 199.10,101.80 199.30,101.62 199.50,101.62 199.70,101.80 199.90,102.14 200.10,102.66 200.30,103.34 200.50,104.18 200.70,105.17 200.90,106.30 201.10,107.56 201.30,108.95 201.50,110.44 201.70,112.03 201.90,113.69 202.10,115.43 202.30,117.21 202.50,119.03 202.70,120.86 202.90,122.70 203.10,124.52 203.30,126.31 203.50,128.05 203.70,129.73 203.90,131.33 204.10,132.84 204.30,134.24 204.50,135.52 204.70,136.67 204.90,137.68 205.10,138.55 205.30,139.25 205.50,139.79 205.70,140.16 205.90,140.36 206.10,140.39 206.30,140.24 206.50,139.92 206.70,139.43 206.90,138.77 207.10,137.96 207.30,136.99 207.50,135.88 207.70,134.64 207.90,133.27 208.10,131.79 208.30,130.22 208.50,128.56 208.70,126.84 208.90,125.06 209.10,123.25 209.30,121.41 209.50,119.58 209.70,117.75 209.90,115.96 210.10,114.21 210.30,112.52 210.50,110.90 210.70,109.38 210.90,107.96 211.10,106.66 211.30,105.49 211.50,104.46 211.70,103.57 211.90,102.84 212.10,102.28 212.30,101.88 212.50,101.66 212.70,101.60 212.90,101.73 213.10,102.02 213.30,102.49 213.50,103.12 213.70,103.91 213.90,104.85 214.10,105.94 214.30,107.17 214.50,108.52 214.70,109.98 214.90,111.54 215.10,113.18 215.30,114.90 215.50,116.67 215.70,118.48 215.90,120.31 216.10,122.15 216.30,123.98 216.50,125.78 216.70,127.53 216.90,129.23 217.10,130.86 217.30,132.40 217.50,133.83 217.70,135.15 217.90,136.34 218.10,137.40 218.30,138.30 218.50,139.06 218.70,139.65 218.90,140.07 219.10,140.32 219.30,140.40 219.50,140.30 219.70,140.04 219.90,139.60 220.10,138.99 220.30,138.22 220.50,137.30 220.70,136.23 220.90,135.02 221.10,133.69 221.30,132.25 221.50,130.70 221.70,129.07 221.90,127.36 222.10,125.60 222.30,123.79 222.50,121.96 222.70,120.13 222.90,118.30 223.10,116.49 223.30,114.73 223.50,113.02 223.70,111.38 223.90,109.83 224.10,108.38 224.30,107.04 224.50,105.83 224.70,104.75 224.90,103.82 225.10,103.05 225.30,102.43 225.50,101.98 225.70,101.71 225.90,101.60 226.10,101.67 226.30,101.91 226.50,102.33 226.70,102.91 226.90,103.65 227.10,104.55 227.30,105.60 227.50,106.79 227.70,108.10 227.90,109.53 228.10,111.06 228.30,112.68 228.50,114.38 228.70,116.13 228.90,117.93 229.10,119.76 229.30,121.60 229.50,123.43 229.70,125.24 229.90,127.01 230.10,128.73 230.30,130.38 230.50,131.94 230.70,133.41 230.90,134.77 231.10,136.00 231.30,137.10 231.50,138.05 231.70,138.85 231.90,139.49 232.10,139.96 232.30,140.26 232.50,140.39 232.70,140.35 232.90,140.13 233.10,139.74 233.30,139.19 233.50,138.47 233.70,137.59 233.90,136.56 234.10,135.40 234.30,134.10 234.50,132.69 234.70,131.17 234.90,129.56 235.10,127.88 235.30,126.13 235.50,124.34 235.70,122.52 235.90,120.68 236.10,118.84 236.30,117.03 236.50,115.25 236.70,113.52 236.90,111.86 237.10,110.28 237.30,108.80 237.50,107.43 237.70,106.18 237.90,105.06 238.10,104.09 238.30,103.26 238.50,102.60 238.70,102.10 238.90,101.77 239.10,101.61 239.30,101.63 239.50,101.82 239.70,102.19 239.90,102.72 240.10,103.41 240.30,104.27 240.50,105.27 240.70,106.42 240.90,107.69 241.10,109.09 241.30,110.59 241.50,112.19 241.70,113.86 241.90,115.60 242.10,117.39 242.30,119.21 242.50,121.05 242.70,122.88 242.90,124.70 243.10,126.49 243.30,128.22 243.50,129.89 243.70,131.48 243.90,132.98 244.10,134.37 244.30,135.64 244.50,136.78 244.70,137.78 244.90,138.62 245.10,139.31 245.30,139.84 245.50,140.19 245.70,140.37 245.90,140.38 246.10,140.22 246.30,139.88 246.50,139.37 246.70,138.70 246.90,137.87 247.10,136.89 247.30,135.76 247.50,134.50 247.70,133.13 247.90,131.64 248.10,130.06 248.30,128.39 248.50,126.66 248.70,124.88 248.90,123.06 249.10,121.23 249.30,119.39 249.50,117.57 249.70,115.78 249.90,114.03 250.10,112.35 250.30,110.75 250.50,109.24 250.70,107.83 250.90,106.54 251.10,105.38 251.30,104.36 251.50,103.49 251.70,102.78 251.90,102.23 252.10,101.85 252.30,101.64 252.50,101.61 252.70,101.75 252.90,102.06 253.10,102.54 253.30,103.19 253.50,104.00 253.70,104.96 253.90,106.06 254.10,107.30 254.30,108.66 254.50,110.13 254.70,111.70 254.90,113.35 255.10,115.08 255.30,116.85 255.50,118.66 255.70,120.49 255.90,122.33 256.10,124.16 256.30,125.95 256.50,127.71 256.70,129.40 256.90,131.02 257.10,132.54 257.30,133.97 257.50,135.27 257.70,136.45 257.90,137.49 258.10,138.39 258.30,139.12 258.50,139.70 258.70,140.10 258.90,140.34 259.10,140.40 259.30,140.28 259.50,140.00 259.70,139.54 259.90,138.92 260.10,138.13 260.30,137.20 260.50,136.11 260.70,134.90 260.90,133.55 261.10,132.10 261.30,130.54 261.50,128.90 261.70,127.19 261.90,125.42 262.10,123.61 262.30,121.78 262.50,119.94 262.70,118.12 262.90,116.31 263.10,114.55 263.30,112.85 263.50,111.22 263.70,109.68 263.90,108.24 264.10,106.91 264.30,105.71 264.50,104.65 264.70,103.74 264.90,102.98 265.10,102.38 265.30,101.95 265.50,101.69 265.70,101.60 265.90,101.69 266.10,101.95 266.30,102.38 266.50,102.98 266.70,103.74 266.90,104.65 267.10,105.71 267.30,106.91 267.50,108.24 267.70,109.68 267.90,111.22 268.10,112.85 268.30,114.55 268.50,116.31 268.70,118.12 268.90,119.94 269.10,121.78 269.30,123.61 269.50,125.42 269.70,127.19 269.90,128.90 270.10,130.54 270.30,132.10 270.50,133.55 270.70,134.90 270.90,136.11 271.10,137.20 271.30,138.13 271.50,138.92 271.70,139.54 271.90,140.00 272.10,140.28 272.30,140.40 272.50,140.34 272.70,140.10 272.90,139.70 273.10,139.12 273.30,138.39 273.50,137.49 273.70,136.45 273.90,135.27 274.10,133.97 274.30,132.54 274.50,131.02 274.70,129.40 274.90,127.71 275.10,125.95 275.30,124.16 275.50,122.33 275.70,120.49 275.90,118.66 276.10,116.85 276.30,115.08 276.50,113.35 276.70,111.70 276.90,110.13 277.10,108.66 277.30,107.30 277.50,106.06 277.70,104.96 277.90,104.00 278.10,103.19 278.30,102.54 278.50,102.06 278.70,101.75 278.90,101.61 279.10,101.64 279.30,101.85 279.50,102.23 279.70,102.78 279.90,103.49 280.10,104.36 280.30,105.38 280.50,106.54 280.70,107.83 280.90,109.24 281.10,110.75 281.30,112.35 281.50,114.03 281.70,115.78 281.90,117.57 282.10,119.39 282.30,121.23 282.50,123.06 282.70,124.88 282.90,126.66 283.10,128.39 283.30,130.06 283.50,131.64 283.70,133.13 283.90,134.50 284.10,135.76 284.30,136.89 284.50,137.87 284.70,138.70 284.90,139.37 285.10,139.88 285.30,140.22 285.50,140.38 285.70,140.37 285.90,140.19 286.10,139.84 286.30,139.31 286.50,138.62 286.70,137.78 286.90,136.78 287.10,135.64 287.30,134.37 287.50,132.98 287.70,131.48 287.90,129.89 288.10,128.22 288.30,126.49 288.50,124.70 288.70,122.88 288.90,121.05 289.10,119.21 289.30,117.39 289.50,115.60 289.70,113.86 289.90,112.19 290.10,110.59 290.30,109.09 290.50,107.69 290.70,106.42 290.90,105.27 291.10,104.27 291.30,103.41 291.50,102.72 291.70,102.19 291.90,101.82 292.10,101.63 292.30,101.61 292.50,101.77 292.70,102.10 292.90,102.60 293.10,103.26 293.30,104.09 293.50,105.06 293.70,106.18 293.90,107.43 294.10,108.80 294.30,110.28 294.50,111.86 294.70,113.52 294.90,115.25 295.10,117.03 295.30,118.84 295.50,120.68 295.70,122.52 295.90,124.34 296.10,126.13 296.30,127.88 296.50,129.56 296.70,131.17 296.90,132.69 297.10,134.10 297.30,135.40 297.50,136.56 297.70,137.59 297.90,138.47 298.10,139.19 298.30,139.74 298.50,140.13 298.70,140.35 298.90,140.39 299.10,140.26 299.30,139.96 299.50,139.49 299.70,138.85 299.90,138.05 300.10,137.10 300.30,136.00 300.50,134.77 300.70,133.41 300.90,131.94 301.10,130.38 301.30,128.73 301.50,127.01 301.70,125.24 301.90,123.43 302.10,121.60 302.30,119.76 302.50,117.93 302.70,116.13 302.90,114.38 303.10,112.68 303.30,111.06 303.50,109.53 303.70,108.10 303.90,106.79 304.10,105.60 304.30,104.55 304.50,103.65 304.70,102.91 304.90,102.33 305.10,101.91 305.30,101.67 305.50,101.60 305.70,101.71 305.90,101.98 306.10,102.43 306.30,103.05 306.50,103.82 306.70,104.75 306.90,105.83 307.10,107.04 307.30,108.38 307.50,109.83 307.70,111.38 307.90,113.02 308.10,114.73 308.30,116.49 308.50,118.30 308.70,120.13 308.90,121.96 309.10,123.79 309.30,125.60 309.50,127.36 309.70,129.07 309.90,130.70 310.10,132.25 310.30,133.69 310.50,135.02 310.70,136.23 310.90,137.30 311.10,138.22 311.30,138.99 311.50,139.60 311.70,140.04 311.90,140.30 312.10,140.40 312.30,140.32 312.50,140.07 312.70,139.65 312.90,139.06 313.10,138.30 313.30,137.40 313.50,136.34 313.70,135.15 313.90,133.83 314.10,132.40 314.30,130.86 314.50,129.23 314.70,127.53 314.90,125.78 315.10,123.98 315.30,122.15 315.50,120.31 315.70,118.48 315.90,116.67 316.10,114.90 316.30,113.18 316.50,111.54 316.70,109.98 316.90,108.52 317.10,107.17 317.30,105.94 317.50,104.85" stroke="#25398f" stroke-width="3.0" stroke-linejoin="round" fill="none"/>
<polyline points="193.70,136.29 193.90,135.53 194.10,134.65 194.30,133.65 194.50,132.53 194.70,131.31 194.90,130.00 195.10,128.60 195.30,127.14 195.50,125.62 195.70,124.07 195.90,122.48 196.10,120.88 196.30,119.28 196.50,117.70 196.70,116.14 196.90,114.63 197.10,113.18 197.30,111.80 197.50,110.50 197.70,109.29 197.90,108.19 198.10,107.21 198.30,106.34 198.50,105.61 198.70,105.02 198.90,104.57 199.10,104.27 199.30,104.12 199.50,104.12 199.70,104.27 199.90,104.57 200.10,105.02 200.30,105.61 200.50,106.34 200.70,107.21 200.90,108.19 201.10,109.29 201.30,110.50 201.50,111.80 201.70,113.18 201.90,114.63 202.10,116.14 202.30,117.70 202.50,119.28 202.70,120.88 202.90,122.48 203.10,124.07 203.30,125.62 203.50,127.14 203.70,128.60 203.90,130.00 204.10,131.31 204.30,132.53 204.50,133.65 204.70,134.65 204.90,135.53 205.10,136.29 205.30,136.90 205.50,137.37 205.70,137.69 205.90,137.87 206.10,137.89 206.30,137.76 206.50,137.48 206.70,137.06 206.90,136.48 207.10,135.77 207.30,134.93 207.50,133.96 207.70,132.88 207.90,131.69 208.10,130.40 208.30,129.03 208.50,127.59 208.70,126.09 208.90,124.54 209.10,122.96 209.30,121.36 209.50,119.76 209.70,118.17 209.90,116.61 210.10,115.08 210.30,113.61 210.50,112.21 210.70,110.88 210.90,109.64 211.10,108.51 211.30,107.49 211.50,106.59 211.70,105.82 211.90,105.18 212.10,104.69 212.30,104.35 212.50,104.15 212.70,104.10 212.90,104.21 213.10,104.47 213.30,104.87 213.50,105.42 213.70,106.11 213.90,106.93 214.10,107.88 214.30,108.95 214.50,110.13 214.70,111.40 214.90,112.76 215.10,114.19 215.30,115.69 215.50,117.23 215.70,118.80 215.90,120.40 216.10,122.00 216.30,123.59 216.50,125.16 216.70,126.69 216.90,128.17 217.10,129.59 217.30,130.93 217.50,132.18 217.70,133.33 217.90,134.36 218.10,135.28 218.30,136.07 218.50,136.73 218.70,137.24 218.90,137.61 219.10,137.83 219.30,137.90 219.50,137.82 219.70,137.58 219.90,137.20 220.10,136.67 220.30,136.00 220.50,135.20 220.70,134.27 220.90,133.22 221.10,132.06 221.30,130.80 221.50,129.45 221.70,128.03 221.90,126.54 222.10,125.01 222.30,123.43 222.50,121.84 222.70,120.24 222.90,118.65 223.10,117.07 223.30,115.53 223.50,114.05 223.70,112.62 223.90,111.27 224.10,110.00 224.30,108.84 224.50,107.78 224.70,106.85 224.90,106.04 225.10,105.36 225.30,104.82 225.50,104.43 225.70,104.19 225.90,104.10 226.10,104.16 226.30,104.37 226.50,104.73 226.70,105.24 226.90,105.89 227.10,106.67 227.30,107.59 227.50,108.62 227.70,109.76 227.90,111.01 228.10,112.34 228.30,113.76 228.50,115.23 228.70,116.76 228.90,118.33 229.10,119.92 229.30,121.52 229.50,123.12 229.70,124.69 229.90,126.24 230.10,127.73 230.30,129.17 230.50,130.53 230.70,131.81 230.90,132.99 231.10,134.07 231.30,135.02 231.50,135.85 231.70,136.55 231.90,137.10 232.10,137.52 232.30,137.78 232.50,137.90 232.70,137.86 232.90,137.67 233.10,137.33 233.30,136.84 233.50,136.22 233.70,135.45 233.90,134.56 234.10,133.54 234.30,132.42 234.50,131.18 234.70,129.86 234.90,128.46 235.10,126.99 235.30,125.47 235.50,123.91 235.70,122.32 235.90,120.72 236.10,119.12 236.30,117.54 236.50,115.99 236.70,114.49 236.90,113.04 237.10,111.67 237.30,110.37 237.50,109.18 237.70,108.09 237.90,107.11 238.10,106.27 238.30,105.55 238.50,104.97 238.70,104.54 238.90,104.25 239.10,104.11 239.30,104.13 239.50,104.29 239.70,104.61 239.90,105.07 240.10,105.68 240.30,106.42 240.50,107.30 240.70,108.30 240.90,109.41 241.10,110.62 241.30,111.93 241.50,113.32 241.70,114.78 241.90,116.30 242.10,117.86 242.30,119.44 242.50,121.04 242.70,122.64 242.90,124.22 243.10,125.78 243.30,127.29 243.50,128.75 243.70,130.13 243.90,131.44 244.10,132.65 244.30,133.76 244.50,134.75 244.70,135.62 244.90,136.35 245.10,136.95 245.30,137.41 245.50,137.72 245.70,137.88 245.90,137.88 246.10,137.74 246.30,137.45 246.50,137.00 246.70,136.42 246.90,135.70 247.10,134.84 247.30,133.86 247.50,132.76 247.70,131.56 247.90,130.27 248.10,128.89 248.30,127.44 248.50,125.93 248.70,124.38 248.90,122.80 249.10,121.20 249.30,119.60 249.50,118.01 249.70,116.45 249.90,114.93 250.10,113.47 250.30,112.07 250.50,110.75 250.70,109.53 250.90,108.40 251.10,107.39 251.30,106.51 251.50,105.75 251.70,105.13 251.90,104.65 252.10,104.32 252.30,104.14 252.50,104.11 252.70,104.23 252.90,104.50 253.10,104.92 253.30,105.48 253.50,106.19 253.70,107.02 253.90,107.99 254.10,109.06 254.30,110.25 254.50,111.53 254.70,112.90 254.90,114.34 255.10,115.84 255.30,117.38 255.50,118.96 255.70,120.56 255.90,122.16 256.10,123.75 256.30,125.32 256.50,126.84 256.70,128.32 256.90,129.73 257.10,131.06 257.30,132.30 257.50,133.44 257.70,134.46 257.90,135.37 258.10,136.15 258.30,136.79 258.50,137.29 258.70,137.64 258.90,137.85 259.10,137.90 259.30,137.80 259.50,137.55 259.70,137.15 259.90,136.61 260.10,135.93 260.30,135.11 260.50,134.17 260.70,133.10 260.90,131.93 261.10,130.67 261.30,129.31 261.50,127.88 261.70,126.39 261.90,124.85 262.10,123.28 262.30,121.68 262.50,120.08 262.70,118.49 262.90,116.92 263.10,115.38 263.30,113.90 263.50,112.48 263.70,111.14 263.90,109.88 264.10,108.73 264.30,107.68 264.50,106.76 264.70,105.96 264.90,105.30 265.10,104.78 265.30,104.40 265.50,104.18 265.70,104.10 265.90,104.18 266.10,104.40 266.30,104.78 266.50,105.30 266.70,105.96 266.90,106.76 267.10,107.68 267.30,108.73 267.50,109.88 267.70,111.14 267.90,112.48 268.10,113.90 268.30,115.38 268.50,116.92 268.70,118.49 268.90,120.08 269.10,121.68 269.30,123.28 269.50,124.85 269.70,126.39 269.90,127.88 270.10,129.31 270.30,130.67 270.50,131.93 270.70,133.10 270.90,134.17 271.10,135.11 271.30,135.93 271.50,136.61 271.70,137.15 271.90,137.55 272.10,137.80 272.30,137.90 272.50,137.85 272.70,137.64 272.90,137.29 273.10,136.79 273.30,136.15 273.50,135.37 273.70,134.46 273.90,133.44 274.10,132.30 274.30,131.06 274.50,129.73 274.70,128.32 274.90,126.84 275.10,125.32 275.30,123.75 275.50,122.16 275.70,120.56 275.90,118.96 276.10,117.38 276.30,115.84 276.50,114.34 276.70,112.90 276.90,111.53 277.10,110.25 277.30,109.06 277.50,107.99 277.70,107.02 277.90,106.19 278.10,105.48 278.30,104.92 278.50,104.50 278.70,104.23 278.90,104.11 279.10,104.14 279.30,104.32 279.50,104.65 279.70,105.13 279.90,105.75 280.10,106.51 280.30,107.39 280.50,108.40 280.70,109.53 280.90,110.75 281.10,112.07 281.30,113.47 281.50,114.93 281.70,116.45 281.90,118.01 282.10,119.60 282.30,121.20 282.50,122.80 282.70,124.38 282.90,125.93 283.10,127.44 283.30,128.89 283.50,130.27 283.70,131.56 283.90,132.76 284.10,133.86 284.30,134.84 284.50,135.70 284.70,136.42 284.90,137.00 285.10,137.45 285.30,137.74 285.50,137.88 285.70,137.88 285.90,137.72 286.10,137.41 286.30,136.95 286.50,136.35 286.70,135.62 286.90,134.75 287.10,133.76 287.30,132.65 287.50,131.44 287.70,130.13 287.90,128.75 288.10,127.29 288.30,125.78 288.50,124.22 288.70,122.64 288.90,121.04 289.10,119.44 289.30,117.86 289.50,116.30 289.70,114.78 289.90,113.32 290.10,111.93 290.30,110.62 290.50,109.41 290.70,108.30 290.90,107.30 291.10,106.42 291.30,105.68 291.50,105.07 291.70,104.61 291.90,104.29 292.10,104.13 292.30,104.11 292.50,104.25 292.70,104.54 292.90,104.97 293.10,105.55 293.30,106.27 293.50,107.11 293.70,108.09 293.90,109.18 294.10,110.37 294.30,111.67 294.50,113.04 294.70,114.49 294.90,115.99 295.10,117.54 295.30,119.12 295.50,120.72 295.70,122.32 295.90,123.91 296.10,125.47 296.30,126.99 296.50,128.46 296.70,129.86 296.90,131.18 297.10,132.42 297.30,133.54 297.50,134.56 297.70,135.45 297.90,136.22 298.10,136.84 298.30,137.33 298.50,137.67 298.70,137.86 298.90,137.90 299.10,137.78 299.30,137.52 299.50,137.10 299.70,136.55 299.90,135.85 300.10,135.02 300.30,134.07 300.50,132.99 300.70,131.81 300.90,130.53 301.10,129.17 301.30,127.73 301.50,126.24 301.70,124.69 301.90,123.12 302.10,121.52 302.30,119.92 302.50,118.33 302.70,116.76 302.90,115.23 303.10,113.76 303.30,112.34 303.50,111.01 303.70,109.76 303.90,108.62 304.10,107.59 304.30,106.67 304.50,105.89 304.70,105.24 304.90,104.73 305.10,104.37 305.30,104.16 305.50,104.10 305.70,104.19 305.90,104.43 306.10,104.82 306.30,105.36 306.50,106.04 306.70,106.85 306.90,107.78 307.10,108.84 307.30,110.00 307.50,111.27 307.70,112.62 307.90,114.05 308.10,115.53 308.30,117.07 308.50,118.65 308.70,120.24 308.90,121.84 309.10,123.43 309.30,125.01 309.50,126.54 309.70,128.03 309.90,129.45 310.10,130.80 310.30,132.06 310.50,133.22 310.70,134.27 310.90,135.20 311.10,136.00 311.30,136.67 311.50,137.20 311.70,137.58 311.90,137.82 312.10,137.90 312.30,137.83 312.50,137.61 312.70,137.24 312.90,136.73 313.10,136.07 313.30,135.28 313.50,134.36 313.70,133.33 313.90,132.18 314.10,130.93 314.30,129.59 314.50,128.17 314.70,126.69 314.90,125.16 315.10,123.59 315.30,122.00 315.50,120.40 315.70,118.80 315.90,117.23 316.10,115.69 316.30,114.19 316.50,112.76 316.70,111.40 316.90,110.13 317.10,108.95 317.30,107.88 317.50,106.93" stroke="#ec1520" stroke-width="2.6" stroke-linejoin="round" fill="none"/>
<rect x="193.7" y="76.5" width="123.3" height="86.1" fill="none" stroke="#1f71bd" stroke-width="1.9"/>
<path d="M142.80 286.95H145.80M142.80 282.40H145.80M142.80 277.85H145.80M142.80 273.30H145.80M142.80 268.75H146.80M142.80 264.20H145.80M142.80 259.65H145.80M142.80 255.10H145.80M142.80 250.55H145.80M142.80 246.00H146.80M142.80 241.45H145.80M142.80 236.90H145.80M142.80 232.35H145.80M142.80 227.80H145.80M142.80 223.25H146.80M142.80 218.70H145.80M142.80 214.15H145.80M142.80 209.60H145.80M142.80 205.05H145.80M142.80 200.50H146.80M142.80 195.95H145.80M142.80 191.40H145.80M142.80 186.85H145.80M142.80 182.30H145.80M142.80 177.75H146.80M142.80 173.20H145.80M142.80 168.65H145.80M142.80 164.10H145.80M142.80 159.55H145.80M142.80 155.00H146.80M142.80 150.45H145.80M142.80 145.90H145.80M142.80 141.35H145.80M142.80 136.80H145.80M142.80 132.25H146.80M142.80 127.70H145.80M142.80 123.15H145.80M142.80 118.60H145.80M142.80 114.05H145.80M142.80 109.50H146.80M142.80 104.95H145.80M142.80 100.40H145.80M142.80 95.85H145.80M142.80 91.30H145.80M142.80 86.75H146.80M142.80 82.20H145.80M142.80 77.65H145.80M142.80 73.10H145.80M142.80 68.55H145.80M163.15 291.50V288.50M183.50 291.50V288.50M203.85 291.50V288.50M224.20 291.50V288.50M244.55 291.50V288.50M264.90 291.50V288.50M285.25 291.50V288.50M305.60 291.50V288.50M325.95 291.50V288.50" stroke="#000" stroke-width="1.4" fill="none"/>
<rect x="142.8" y="64.0" width="203.50" height="227.50" stroke="#000" stroke-width="1.5" fill="none"/>
<text transform="translate(130.1 296.40) scale(1 1.1)" text-anchor="end" class="m">0</text>
<text transform="translate(130.1 273.65) scale(1 1.1)" text-anchor="end" class="m">10</text>
<text transform="translate(130.1 250.90) scale(1 1.1)" text-anchor="end" class="m">20</text>
<text transform="translate(130.1 228.15) scale(1 1.1)" text-anchor="end" class="m">30</text>
<text transform="translate(130.1 205.40) scale(1 1.1)" text-anchor="end" class="m">40</text>
<text transform="translate(130.1 182.65) scale(1 1.1)" text-anchor="end" class="m">50</text>
<text transform="translate(130.1 159.90) scale(1 1.1)" text-anchor="end" class="m">60</text>
<text transform="translate(130.1 137.15) scale(1 1.1)" text-anchor="end" class="m">70</text>
<text transform="translate(130.1 114.40) scale(1 1.1)" text-anchor="end" class="m">80</text>
<text transform="translate(130.1 91.65) scale(1 1.1)" text-anchor="end" class="m">90</text>
<text transform="translate(130.1 68.90) scale(1 1.1)" text-anchor="end" class="m">100</text>
<text x="142.80" y="314" text-anchor="middle" class="m">750</text>
<text x="244.55" y="314" text-anchor="middle" class="m">800</text>
<text x="346.30" y="314" text-anchor="middle" class="m">850</text>
<text transform="translate(256.5 329.3) scale(1 0.92)" text-anchor="middle" class="s">Wavelength (nm)</text>
<text transform="translate(104.0 167.0) rotate(-90)" text-anchor="middle" class="s" style="font-size:16.4px">%Reflection</text>
</svg>
</body></html>
